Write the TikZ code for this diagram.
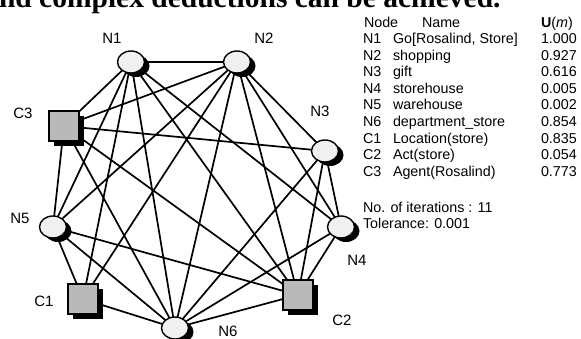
\documentclass[tikz,border=0pt]{standalone}
\usepackage{fontspec}
\setmainfont{Liberation Sans}
\newfontfamily\bodyserif{Liberation Serif}
\usetikzlibrary{shapes.geometric,shadows,backgrounds}

\tikzset{
	cnode/.style={ellipse, draw=black, line width=1.4, fill=gray!12, minimum width=27, minimum height=22, inner sep=0pt,
		drop shadow={shadow xshift=5pt, shadow yshift=-4pt, fill=black, opacity=1}},
	snode/.style={rectangle, draw=black, line width=1.4, fill=gray!55, minimum width=30, minimum height=30, inner sep=0pt,
		drop shadow={shadow xshift=4.5pt, shadow yshift=-4.5pt, fill=black, opacity=1}},
	lbl/.style={font=\fontsize{15}{16}\selectfont, inner sep=0pt},
	txt/.style={font=\fontsize{14.3}{16}\selectfont, anchor=base west, inner sep=0pt},
	link/.style={line width=1.7},
}

\begin{document}
\begin{tikzpicture}[y=-1pt, x=1pt, outer sep=0pt]
\useasboundingbox (0,0) rectangle (581,338);
% page text above the figure
\node[anchor=base west, inner sep=0pt, font=\bodyserif\bfseries\fontsize{29.5}{30}\selectfont] (body) at (-1,7.5) {nd complex deductions can be achieved.};
% network
\node[cnode] (N1) at (131,62) {};
\node[cnode] (N2) at (237,62) {};
\node[cnode] (N3) at (325,151) {};
\node[cnode] (N4) at (341,227) {};
\node[snode] (C2) at (298,295) {};
\node[cnode] (N6) at (175,328) {};
\node[snode] (C1) at (83,299) {};
\node[cnode] (N5) at (53,227) {};
\node[snode] (C3) at (64,126) {};
\begin{scope}[on background layer]
	\foreach \a/\b in {N1/N2, N1/C3, N1/N5, N1/C1, N1/N6, N1/C2, N1/N4,
		N2/C3, N2/N3, N2/N4, N2/C2, N2/N6, N2/C1, N2/N5,
		N3/C3, N3/N6, N3/C2, N3/N4, N4/C2, N4/N6,
		N5/C3, N5/C2, N5/N6, N5/C1, N6/C3, N6/C2, N6/C1, C2/C3}
		\draw[link] (\a) -- (\b);
\end{scope}
\node[lbl] (lN1) at (112,38) {N1};
\node[lbl] (lN2) at (264,38) {N2};
\node[lbl] (lN3) at (320,111) {N3};
\node[lbl] (lN4) at (357,260) {N4};
\node[lbl] (lC2) at (342,320) {C2};
\node[lbl] (lN6) at (228,331) {N6};
\node[lbl] (lC1) at (44,301) {C1};
\node[lbl] (lN5) at (20,218) {N5};
\node[lbl] (lC3) at (23,113) {C3};
% table of utilities
\node[txt] (hNode) at (364,27) {Node};
\node[txt] (hName) at (422,27) {Name};
\node[txt] (hU) at (541,27) {\textbf{U}(\textit{m})};
\foreach \k/\nm/\u [count=\i] in {N1/{Go[Rosalind, Store]}/1.000, N2/shopping/0.927, N3/gift/0.616,
	N4/storehouse/0.005, N5/warehouse/0.002, N6/department\_store/0.854,
	C1/Location(store)/0.835, C2/Act(store)/0.054, C3/Agent(Rosalind)/0.773} {
	\node[txt] (k\i) at (363,43.5+16.6*\i-16.6) {\k};
	\node[txt] (n\i) at (393,43.5+16.6*\i-16.6) {\nm};
	\node[txt] (u\i) at (541,43.5+16.6*\i-16.6) {\u};
}
\node[txt] (iter) at (363,212) {No. of iterations : 11};
\node[txt] (tol) at (363,228) {Tolerance: 0.001};
\end{tikzpicture}
\end{document}
